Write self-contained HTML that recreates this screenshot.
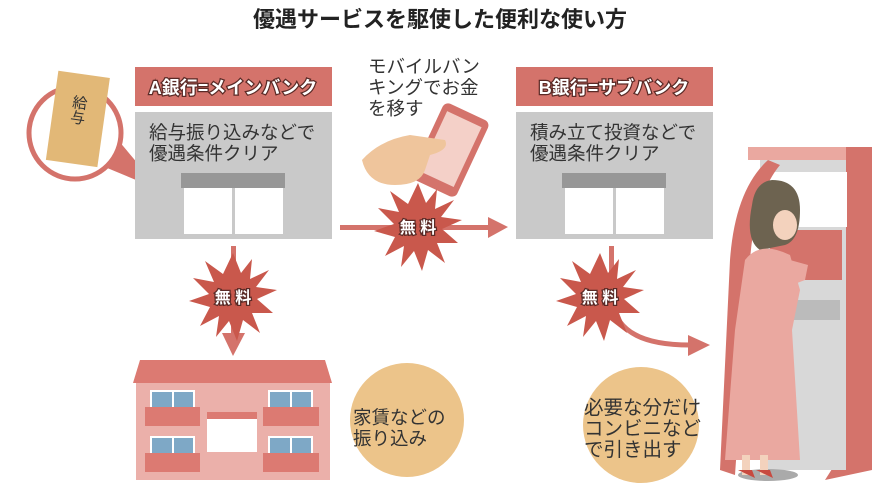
<!DOCTYPE html>
<html><head><meta charset="utf-8"><style>
body{margin:0;background:#fff;}
svg{display:block;}
text{font-family:"Liberation Sans","Noto Sans CJK JP",sans-serif;}
.hd{font-size:18px;font-weight:bold;fill:#fff;stroke:#5a2a26;stroke-width:2.5px;paint-order:stroke;}
.bd{font-size:18.5px;fill:#333;}
.bu{font-size:16px;font-weight:bold;fill:#fff;stroke:#5a2a26;stroke-width:2.5px;paint-order:stroke;}
</style></head><body>
<svg width="880" height="495" viewBox="0 0 880 495" xmlns="http://www.w3.org/2000/svg">
<defs>
<polygon id="burst" points="0,-44 8,-24 19,-38 17,-18 36,-27 23,-10 44,-7 24,2 40,16 19,16 27,36 10,23 4,44 -4,24 -17,40 -14,19 -33,29 -23,10 -44,4 -24,-3 -40,-19 -19,-15 -28,-36 -10,-23"/>
</defs>
<text x="440" y="27" text-anchor="middle" font-size="22" font-weight="bold" fill="#222">優遇サービスを駆使した便利な使い方</text>

<!-- bubble -->
<path d="M100,165 L160,190 L118,140 Z" fill="#d4736b"/>
<circle cx="75" cy="133" r="46" fill="#fff" stroke="#d4736b" stroke-width="5"/>
<g transform="rotate(8 78 118)"><rect x="52" y="74" width="52" height="90" fill="#e2b877"/></g>
<text x="80" y="95" font-size="15" fill="#333" transform="rotate(8 80 95)" writing-mode="tb">給与</text>

<!-- Bank A -->
<rect x="135" y="67" width="197" height="39" fill="#d4736b"/>
<text x="233" y="94" text-anchor="middle" class="hd">A銀行=メインバンク</text>
<rect x="135" y="112" width="197" height="127" fill="#c9c9c9"/>
<text x="149" y="139" class="bd">給与振り込みなどで</text>
<text x="149" y="160" class="bd">優遇条件クリア</text>
<rect x="181" y="173" width="104" height="15" fill="#979797"/>
<rect x="184" y="188" width="99" height="46" fill="#fff"/>
<rect x="232" y="188" width="3" height="46" fill="#c9c9c9"/>

<!-- mobile -->
<text x="368" y="73" class="bd">モバイルバン</text>
<text x="368" y="94" class="bd">キングでお金</text>
<text x="368" y="115" class="bd">を移す</text>
<g transform="rotate(25 450 150)"><rect x="425" y="108" width="50" height="84" rx="6" fill="#d4736b"/><rect x="431" y="116" width="38" height="66" fill="#f4d0c8"/></g>
<path d="M362,160 Q380,140 410,135 L445,140 Q450,150 430,155 L425,170 Q420,185 395,185 Q368,185 362,160Z" fill="#efc59c"/>

<!-- horizontal arrow -->
<rect x="340" y="225" width="150" height="5" fill="#d4736b"/>
<polygon points="488,217 508,227 488,238" fill="#d4736b"/>
<use href="#burst" x="418" y="227" fill="#c9584c"/>
<text x="418" y="233" text-anchor="middle" class="bu">無 料</text>

<!-- Bank B -->
<rect x="516" y="67" width="197" height="39" fill="#d4736b"/>
<text x="614" y="94" text-anchor="middle" class="hd">B銀行=サブバンク</text>
<rect x="516" y="112" width="197" height="127" fill="#c9c9c9"/>
<text x="530" y="139" class="bd">積み立て投資などで</text>
<text x="530" y="160" class="bd">優遇条件クリア</text>
<rect x="562" y="173" width="104" height="15" fill="#979797"/>
<rect x="565" y="188" width="99" height="46" fill="#fff"/>
<rect x="613" y="188" width="3" height="46" fill="#c9c9c9"/>

<!-- vertical arrow A -->
<rect x="231" y="246" width="5" height="90" fill="#d4736b"/>
<polygon points="222,333 245,333 233,356" fill="#d4736b"/>
<use href="#burst" x="233" y="297" fill="#c9584c"/>
<text x="233" y="303" text-anchor="middle" class="bu">無 料</text>

<!-- arrow B -->
<rect x="609" y="246" width="5" height="40" fill="#d4736b"/>
<path d="M613,305 Q620,345 690,345" fill="none" stroke="#d4736b" stroke-width="5"/>
<polygon points="688,335 710,345 688,356" fill="#d4736b"/>
<use href="#burst" x="600" y="297" fill="#c9584c"/>
<text x="600" y="303" text-anchor="middle" class="bu">無 料</text>

<!-- apartment -->
<polygon points="133,383 140,360 325,360 332,383" fill="#dc7a72"/>
<rect x="136" y="383" width="194" height="97" fill="#ebb0aa"/>
<g fill="#fff"><rect x="150" y="390" width="45" height="18"/><rect x="268" y="390" width="45" height="18"/><rect x="150" y="436" width="45" height="18"/><rect x="268" y="436" width="45" height="18"/></g>
<g fill="#7ea8c6"><rect x="152" y="392" width="20" height="16"/><rect x="174" y="392" width="19" height="16"/><rect x="270" y="392" width="20" height="16"/><rect x="292" y="392" width="19" height="16"/><rect x="152" y="438" width="20" height="16"/><rect x="174" y="438" width="19" height="16"/><rect x="270" y="438" width="20" height="16"/><rect x="292" y="438" width="19" height="16"/></g>
<g fill="#dc7a72"><rect x="145" y="407" width="55" height="19"/><rect x="263" y="407" width="56" height="19"/><rect x="145" y="453" width="55" height="19"/><rect x="263" y="453" width="56" height="19"/><rect x="207" y="412" width="50" height="7"/></g>
<rect x="207" y="419" width="50" height="33" fill="#fff"/>

<circle cx="407" cy="420" r="57" fill="#ecc48a"/>
<text x="353" y="424" class="bd">家賃などの</text>
<text x="353" y="445" class="bd">振り込み</text>

<circle cx="641" cy="425" r="58" fill="#ecc48a"/>
<text x="584" y="414" font-size="19.5" fill="#333">必要な分だけ</text>
<text x="584" y="435" font-size="19.5" fill="#333">コンビニなど</text>
<text x="584" y="456" font-size="19.5" fill="#333">で引き出す</text>

<!-- ATM -->
<rect x="748" y="147" width="98" height="13" fill="#eaa8a0"/>
<rect x="846" y="147" width="26" height="300" fill="#d4736b"/>
<polygon points="846,447 872,447 872,470 825,480" fill="#d4736b"/>
<rect x="760" y="160" width="86" height="310" fill="#d8d8d8"/>
<rect x="765" y="172" width="82" height="55" fill="#fff"/>
<rect x="770" y="230" width="72" height="50" fill="#d4736b"/>
<rect x="780" y="300" width="60" height="20" fill="#bbb"/>
<path d="M768,160 Q735,190 730,260 L720,470 L735,475 L750,260 Q755,195 780,165 Z" fill="#d4736b"/>
<!-- woman -->
<ellipse cx="768" cy="475" rx="30" ry="6" fill="#aaa"/>
<path d="M772,180 Q800,180 800,210 Q800,240 785,245 L760,250 Q745,240 752,205 Q755,182 772,180Z" fill="#6d6350"/>
<ellipse cx="785" cy="225" rx="12" ry="15" fill="#f3d2bd"/>
<path d="M745,260 Q760,240 790,255 L800,290 L792,330 L800,460 L725,460 L735,330 Z" fill="#eaa8a0"/>
<rect x="742" y="455" width="8" height="20" fill="#f3d2bd"/><rect x="760" y="455" width="8" height="20" fill="#f3d2bd"/>
<path d="M738,470 L755,478 L752,470Z M756,470 L773,478 L770,470Z" fill="#c84a40"/>
<path d="M790,260 L808,265 L805,280 L792,285Z" fill="#eaa8a0"/>
</svg>
</body></html>
